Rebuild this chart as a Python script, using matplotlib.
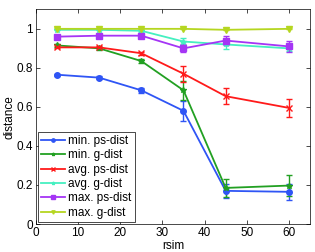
import matplotlib.pyplot as plt

rsim = [5, 15, 25, 35, 45, 60]

labels = ["min. ps-dist", "min. g-dist", "avg. ps-dist",
          "avg. g-dist", "max. ps-dist", "max. g-dist"]

min_ps = [0.765, 0.75, 0.685, 0.58, 0.17, 0.165]
min_ps_err = [0.005, 0.006, 0.012, 0.05, 0.035, 0.04]
min_g = [0.915, 0.90, 0.835, 0.685, 0.185, 0.197]
min_g_err = [0.008, 0.008, 0.012, 0.05, 0.045, 0.055]
avg_ps = [0.905, 0.905, 0.875, 0.77, 0.655, 0.595]
avg_ps_err = [0.005, 0.005, 0.008, 0.04, 0.04, 0.045]
avg_g = [0.995, 0.995, 0.99, 0.935, 0.92, 0.90]
avg_g_err = [0.003, 0.003, 0.004, 0.02, 0.025, 0.012]
max_ps = [0.96, 0.965, 0.965, 0.90, 0.94, 0.91]
max_ps_err = [0.004, 0.004, 0.005, 0.02, 0.025, 0.03]
max_g = [1.0, 1.0, 1.0, 1.0, 0.995, 1.0]
max_g_err = [0.002, 0.002, 0.002, 0.002, 0.003, 0.002]

series = [min_ps, min_g, avg_ps, avg_g, max_ps, max_g]
errors = [min_ps_err, min_g_err, avg_ps_err, avg_g_err, max_ps_err, max_g_err]
colors = ["#2f55f5", "#22a022", "#ff1a1a", "#45f0c0", "#a535f5", "#b5d620"]
markers = ["o", "*", "x", "*", "s", "v"]

plt.rcParams['font.family'] = ['Liberation Sans', 'DejaVu Sans']
plt.rcParams['font.size'] = 8.5
fig = plt.figure(figsize=(3.15, 2.52), dpi=100)
ax = fig.add_axes([0.114, 0.111, 0.87, 0.852])

handles = []
for y, e, c, m, lab in zip(series, errors, colors, markers, labels):
    eb = ax.errorbar(rsim, y, yerr=e, color=c, marker=m, markersize=4,
                     linewidth=1.3, capsize=2, elinewidth=1, label=lab)
    handles.append(eb.lines[0])

ax.set_xlim(0, 65)
ax.set_ylim(0, 1.1)
ax.set_xticks([0, 10, 20, 30, 40, 50, 60])
ax.set_yticks([0, 0.2, 0.4, 0.6, 0.8, 1])
ax.set_yticklabels(["0", "0.2", "0.4", "0.6", "0.8", "1"])
ax.tick_params(direction="in", top=True, right=True, length=3, width=0.5, pad=2)
for s in ax.spines.values():
    s.set_linewidth(0.5)
ax.set_xlabel("rsim", labelpad=1)
ax.set_ylabel("distance", labelpad=1)

leg = ax.legend(handles, labels, loc="lower left", fancybox=False,
                edgecolor="black", framealpha=1, handlelength=2.0,
                handletextpad=0.3, borderpad=0.25, labelspacing=0.2,
                borderaxespad=0.2, markerscale=0.6, fontsize=8.5)
leg.get_frame().set_linewidth(0.5)

fig.savefig("out.png", dpi=100)
